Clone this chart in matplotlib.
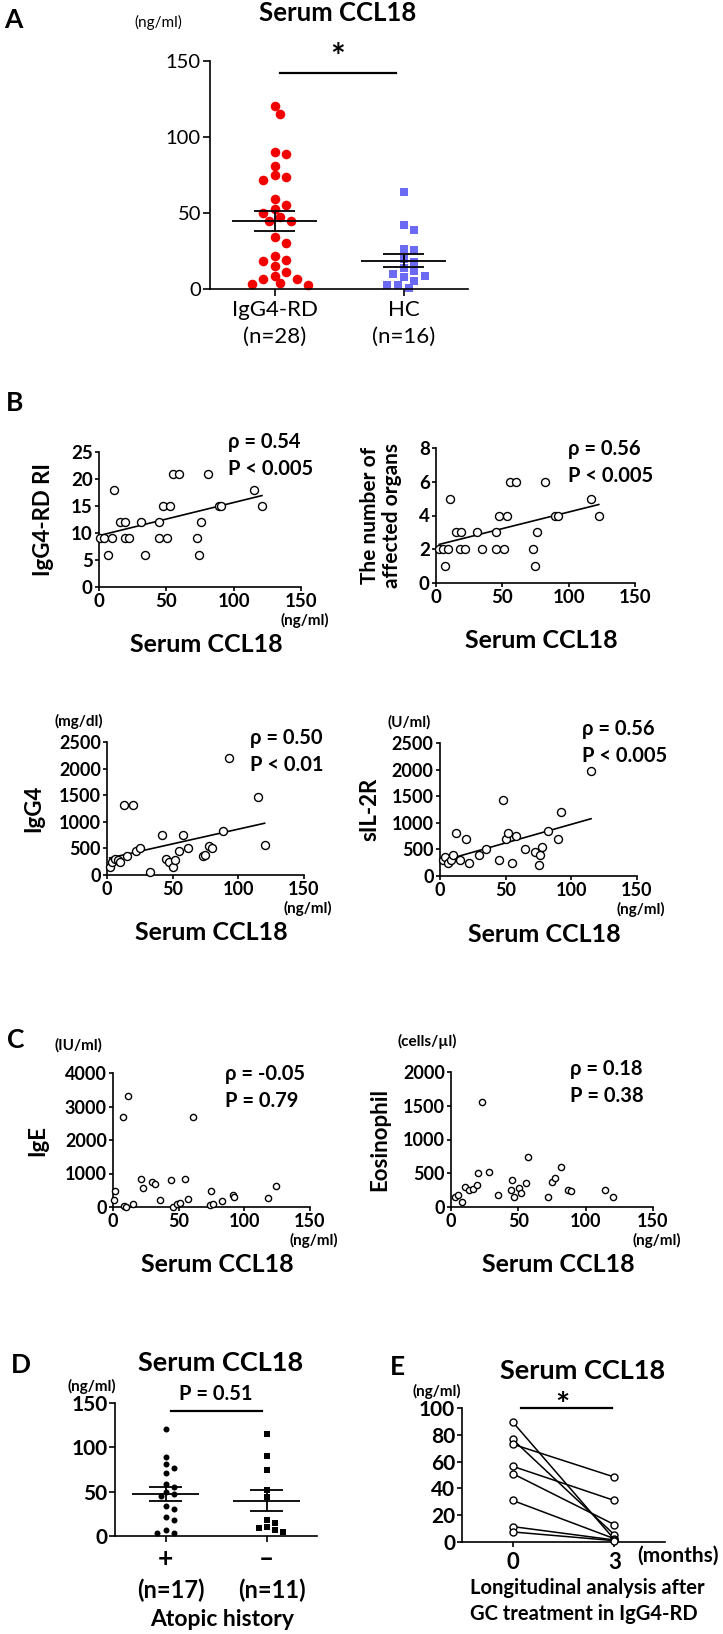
import numpy as np
import matplotlib
matplotlib.use("Agg")
import matplotlib.pyplot as plt

# ---------------- data ----------------
a_groups = ["IgG4-RD\n(n=28)", "HC\n(n=16)"]
a_igg4rd = [120.4, 115.0, 90.4, 88.7, 81.2, 75.1, 73.4, 71.8, 59.1, 55.4, 52.6, 49.9, 47.3, 44.5,
            44.5, 34.2, 30.2, 21.9, 19.1, 18.2, 14.9, 11.0, 8.8, 6.6, 6.6, 3.7, 3.3, 2.6]
a_hc = [63.7, 42.0, 39.0, 26.3, 25.6, 19.7, 17.5, 13.8, 11.6, 9.9, 8.8, 7.7, 5.0, 2.8, 2.4, 0.5]

b_ri_x = [1, 4, 9.7, 6.9, 11.4, 15.6, 19.3, 19.3, 22.5, 31, 34, 44.8, 44.8, 50.2, 47.3, 53, 55.2,
          59.7, 72.5, 74, 75.7, 81.2, 88.9, 90.8, 115.3, 121]
b_ri_y = [9, 9, 9, 6, 18, 12, 12, 9, 9, 12, 6, 12, 9, 9, 15, 15, 21, 21, 9, 6, 12, 21, 15, 15, 18, 15]

b_org_x = [2.5, 5, 9, 7, 10.9, 15.4, 19, 18.4, 21.7, 31, 34.3, 45, 45, 51.3, 47.5, 53.3, 55.8,
           60.6, 73.2, 74.7, 76.3, 82.3, 89.6, 92.2, 117, 122.7]
b_org_y = [2, 2, 2, 1, 5, 3, 3, 2, 2, 3, 2, 3, 2, 2, 4, 4, 6, 6, 2, 1, 3, 6, 4, 4, 5, 4]

b_igg4_x = [2, 4, 6, 8, 10, 13, 20, 15, 22, 25, 33, 42, 45, 47, 50, 52, 55, 58, 62, 73, 75, 78,
            80, 88, 93, 115, 120]
b_igg4_y = [150, 250, 300, 280, 250, 1310, 1310, 350, 450, 500, 60, 760, 300, 250, 150, 280, 450,
            750, 500, 350, 380, 550, 500, 820, 2200, 1460, 560]

b_sil2r_x = [2, 4, 6, 8, 10, 12, 15, 20, 22, 30, 35, 45, 48, 50, 52, 55, 58, 65, 72, 75, 76, 78,
             82, 90, 92, 115]
b_sil2r_y = [300, 350, 250, 300, 400, 800, 300, 700, 250, 400, 500, 300, 1420, 700, 800, 250, 750,
             500, 450, 200, 400, 550, 850, 700, 1200, 1970]

c_ige_x = [1, 1.5, 7.4, 8, 10, 11.4, 15.5, 21, 23, 30, 32, 35.8, 44, 46, 48.5, 51, 55, 57.4, 61,
           74, 74.4, 76.5, 82.8, 91, 92, 118, 124]
c_ige_y = [200, 480, 2700, 30, 0, 3300, 80, 850, 560, 750, 700, 200, 800, 0, 80, 130, 850, 225,
           2700, 50, 470, 100, 180, 370, 290, 265, 620]

c_eos_x = [2.9, 5.4, 7.8, 10.2, 13.2, 16.3, 19.5, 20, 23, 28, 34.6, 44.4, 45, 46.8, 50.5, 52.2,
           55.4, 57, 72, 75, 77, 82, 87, 88.8, 114, 120]
c_eos_y = [149, 173, 74, 297, 248, 272, 322, 500, 1550, 520, 173, 257, 400, 149, 287, 208, 356,
           740, 149, 371, 430, 600, 257, 238, 248, 149]

d_groups = ["+", "\u2013"]
d_counts = ["(n=17)", "(n=11)"]
d_atopic_pos = [121, 89, 81, 77, 71.6, 59.2, 55.5, 49.9, 47.2, 45, 34, 30, 21, 18, 6.7, 3, 3]
d_atopic_neg = [115.5, 90, 74.2, 51.7, 44.2, 18, 15, 10.5, 8.6, 6.7, 4.9]

e_times = [0, 3]
e_month0 = [89.5, 76.5, 73, 56.5, 51, 31, 11.5, 7.5]
e_month3 = [2, 5.5, 48.5, 31, 13, 2.5, 1.5, 1]

corr_b = [("\u03c1 = 0.54", "P < 0.005"), ("\u03c1 = 0.56", "P < 0.005"),
          ("\u03c1 = 0.50", "P < 0.01"), ("\u03c1 = 0.56", "P < 0.005")]
corr_c = [("\u03c1 = -0.05", "P = 0.79"), ("\u03c1 = 0.18", "P = 0.38")]

# ---------------- setup ----------------
FONT = ['Lato', 'DejaVu Sans']
plt.rcParams['font.family'] = FONT
W, H, DPI = 723, 1634, 100
fig = plt.figure(figsize=(W / DPI, H / DPI), dpi=DPI)
LW = 1.2


def add_ax(x0, x1, ytop, ybot):
    ax = fig.add_axes([x0 / W, 1 - ybot / H, (x1 - x0) / W, (ybot - ytop) / H])
    for s in ['top', 'right']:
        ax.spines[s].set_visible(False)
    for s in ['left', 'bottom']:
        ax.spines[s].set_linewidth(LW)
    ax.tick_params(direction='out', length=3.5, width=LW, pad=1.5)
    ax.patch.set_alpha(0)
    return ax


def ftext(x, y, s, **kw):
    kw.setdefault('ha', 'center')
    kw.setdefault('va', 'center')
    fig.text(x / W, 1 - y / H, s, **kw)


def bold_ticks(ax, size):
    for lab in ax.get_xticklabels() + ax.get_yticklabels():
        lab.set_fontsize(size)
        lab.set_fontweight('bold')


def swarm(values, ppv, mind, step):
    vals = np.asarray(values, float)
    order = np.argsort(-vals, kind='stable')
    placed = []
    off = np.zeros(len(vals))
    cands = [0.0]
    for j in range(1, 40):
        cands += [j * step, -j * step]
    for i in order:
        y = vals[i] * ppv
        for c in cands:
            if all((c - px) ** 2 + (y - py) ** 2 >= mind ** 2 for px, py in placed):
                off[i] = c
                placed.append((c, y))
                break
    return off


def mean_sem(ax, vals, xc, half_mean, half_sem):
    v = np.asarray(vals, float)
    m = v.mean()
    se = v.std(ddof=1) / np.sqrt(len(v))
    ax.hlines(m, xc - half_mean, xc + half_mean, color='black', lw=1.3, zorder=4)
    ax.hlines([m - se, m + se], xc - half_sem, xc + half_sem, color='black', lw=1.3, zorder=4)
    ax.vlines(xc, m - se, m + se, color='black', lw=1.3, zorder=4)


def pt2(d_px):
    return (d_px * 72 / DPI) ** 2

# ---------------- Panel A ----------------
ax_x0, ax_x1, ax_top, ax_bot = 210, 468, 61, 289
axA = add_ax(ax_x0, ax_x1, ax_top, ax_bot)
axA.set_xlim(0.5, 2.5)
axA.set_ylim(0, 150)
ppv = (ax_bot - ax_top) / 150
ppx = (ax_x1 - ax_x0) / 2.0
offA = swarm(a_igg4rd, ppv, 9.0, 5.6) / ppx
offH = swarm(a_hc, ppv, 8.6, 5.4) / ppx
axA.scatter(1 + offA, a_igg4rd, s=pt2(9.6), c='#f20000', marker='o', linewidths=0, zorder=2,
            clip_on=False)
axA.scatter(2 + offH, a_hc, s=pt2(8.6), c='#6a6af2', marker='s', linewidths=0, zorder=2,
            clip_on=False)
mean_sem(axA, a_igg4rd, 1, 0.33, 0.16)
mean_sem(axA, a_hc, 2, 0.33, 0.16)
axA.set_yticks([0, 50, 100, 150])
axA.set_xticks([1, 2])
axA.set_xticklabels(a_groups, fontsize=16, linespacing=1.4)
axA.tick_params(axis='y', labelsize=14.5, length=5)
axA.tick_params(axis='x', length=5, pad=3)
axA.plot([1.04, 1.94], [142, 142], color='black', lw=1.6, clip_on=False)
axA.text(1.49, 152, '*', ha='center', va='center', fontsize=25, fontweight='bold', clip_on=False)
ftext(13, 20, 'A', fontsize=19, fontweight='bold')
ftext(338, 13, 'Serum CCL18', fontsize=18.5, fontweight='bold')
ftext(158, 22, '(ng/ml)', fontsize=11)

# ---------------- Panel B ----------------
ftext(15, 403, 'B', fontsize=19, fontweight='bold')


def corr_panel(box, xs, ys, ymax, ystep, corr, rho_xy, ylab, ylab_x, unit=None, unit_xy=None,
               ng=True, fit=True, msize=8.0, tick_fs=13.5, sub_dy=27, rho_fs=14.5, ylab_fs=16):
    x0, x1, yt, yb = box
    ax = add_ax(x0, x1, yt, yb)
    ax.scatter(xs, ys, s=pt2(msize), facecolors='white', edgecolors='black', linewidths=1.0,
               zorder=3, clip_on=False)
    if fit:
        k, b = np.polyfit(xs, ys, 1)
        xx = np.array([min(xs), max(xs)])
        ax.plot(xx, k * xx + b, color='black', lw=1.2, zorder=2)
    ax.set_xlim(0, 150)
    ax.set_ylim(0, ymax)
    ax.set_xticks([0, 50, 100, 150])
    ax.set_yticks(np.arange(0, ymax + ystep / 2, ystep))
    bold_ticks(ax, tick_fs)
    ax.tick_params(length=3)
    ftext(rho_xy[0], rho_xy[1], corr[0], ha='left', fontsize=rho_fs, fontweight='bold')
    ftext(rho_xy[0], rho_xy[1] + sub_dy, corr[1], ha='left', fontsize=rho_fs, fontweight='bold')
    ftext(ylab_x, (yt + yb) / 2, ylab, rotation=90, fontsize=ylab_fs, fontweight='bold',
          ma='center', linespacing=1.15)
    if unit:
        ftext(unit_xy[0], unit_xy[1], unit, fontsize=11, fontweight='bold')
    if ng:
        ftext(x1 + 4, yb + 33, '(ng/ml)', fontsize=11, fontweight='bold')
    ftext((x0 + x1) / 2 + 6, yb + 58, 'Serum CCL18', fontsize=18, fontweight='bold')
    return ax


corr_panel((99, 301, 452, 587), b_ri_x, b_ri_y, 25, 5, corr_b[0], (228, 442), 'IgG4-RD RI', 43)
corr_panel((436, 635, 448, 583), b_org_x, b_org_y, 8, 2, corr_b[1], (568, 449),
           'The number of\naffected organs', 381, ng=False, ylab_fs=15)
corr_panel((107, 304, 742, 875), b_igg4_x, b_igg4_y, 2500, 500, corr_b[2], (250, 738), 'IgG4', 34,
           unit='(mg/dl)', unit_xy=(79, 721), tick_fs=13)
corr_panel((440, 637, 743, 876), b_sil2r_x, b_sil2r_y, 2500, 500, corr_b[3], (582, 729), 'sIL-2R',
           370, unit='(U/ml)', unit_xy=(409, 722), tick_fs=13)

# ---------------- Panel C ----------------
ftext(16, 1040, 'C', fontsize=19, fontweight='bold')
corr_panel((113, 310, 1073, 1207), c_ige_x, c_ige_y, 4000, 1000, corr_c[0], (225, 1074), 'IgE', 38,
           unit='(IU/ml)', unit_xy=(78, 1045), fit=False, msize=6.2, tick_fs=13)
corr_panel((451, 653, 1072, 1207), c_eos_x, c_eos_y, 2000, 500, corr_c[1], (570, 1069),
           'Eosinophil', 380, unit='(cells/\u00b5l)', unit_xy=(427, 1041), fit=False, msize=6.2,
           tick_fs=13)

# ---------------- Panel D ----------------
dx0, dx1, dyt, dyb = 115, 317, 1403, 1536
axD = add_ax(dx0, dx1, dyt, dyb)
axD.set_xlim(0.5, 2.5)
axD.set_ylim(0, 150)
ppvD = (dyb - dyt) / 150
ppxD = (dx1 - dx0) / 2.0
offP = swarm(d_atopic_pos, ppvD, 5.8, 4.3) / ppxD
offN = swarm(d_atopic_neg, ppvD, 5.8, 4.0) / ppxD
axD.scatter(1 + offP, d_atopic_pos, s=pt2(6.0), c='black', marker='o', linewidths=0, zorder=2,
            clip_on=False)
axD.scatter(2 + offN, d_atopic_neg, s=pt2(5.6), c='black', marker='s', linewidths=0, zorder=2,
            clip_on=False)
mean_sem(axD, d_atopic_pos, 1, 0.33, 0.165)
mean_sem(axD, d_atopic_neg, 2, 0.33, 0.165)
axD.set_yticks([0, 50, 100, 150])
axD.set_xticks([1, 2])
axD.set_xticklabels(d_groups, fontsize=19, fontweight='bold')
axD.tick_params(axis='y', labelsize=15, length=4)
axD.tick_params(axis='x', length=4, pad=4)
for lab in axD.get_yticklabels():
    lab.set_fontweight('bold')
axD.plot([1.05, 1.96], [141, 141], color='black', lw=1.6, clip_on=False)
axD.text(1.5, 160, 'P = 0.51', ha='center', va='center', fontsize=14.5, fontweight='bold',
         clip_on=False)
for i, t in enumerate(d_counts):
    xc = dx0 + (i + 1 - 0.5) * ppxD
    ftext(xc + 5, 1590, t, fontsize=17, fontweight='bold')
ftext(222, 1619, 'Atopic history', fontsize=16.5, fontweight='bold')
ftext(21, 1365, 'D', fontsize=19, fontweight='bold')
ftext(221, 1363, 'Serum CCL18', fontsize=19.5, fontweight='bold')
ftext(92, 1386, '(ng/ml)', fontsize=11, fontweight='bold')

# ---------------- Panel E ----------------
ex0, ex1, eyt, eyb = 462, 665, 1408, 1542
axE = add_ax(ex0, ex1, eyt, eyb)
axE.set_xlim(-1.5, 4.5)
axE.set_ylim(0, 100)
for v0, v3 in zip(e_month0, e_month3):
    axE.plot(e_times, [v0, v3], color='black', lw=1.1, marker='o', ms=7.0 * 72 / DPI,
             mfc='white', mec='black', mew=1.0, zorder=3, clip_on=False)
axE.set_xticks(e_times)
axE.set_yticks(np.arange(0, 101, 20))
bold_ticks(axE, 15)
axE.tick_params(length=3.5)
axE.tick_params(axis='x', labelsize=16, pad=4)
axE.plot([0.24, 2.94], [100, 100], color='black', lw=1.6, clip_on=False)
axE.text(1.48, 101, '*', ha='center', va='center', fontsize=24, fontweight='bold', clip_on=False)
ftext(397, 1367, 'E', fontsize=19, fontweight='bold')
ftext(583, 1371, 'Serum CCL18', fontsize=19.5, fontweight='bold')
ftext(437, 1391, '(ng/ml)', fontsize=11, fontweight='bold')
ftext(719, 1556, '(months)', ha='right', fontsize=15, fontweight='bold')
ftext(470, 1588, 'Longitudinal analysis after', ha='left', fontsize=14.5, fontweight='bold')
ftext(470, 1614, 'GC treatment in IgG4-RD', ha='left', fontsize=14.5, fontweight='bold')

fig.savefig('out.png', dpi=DPI, facecolor='white')
